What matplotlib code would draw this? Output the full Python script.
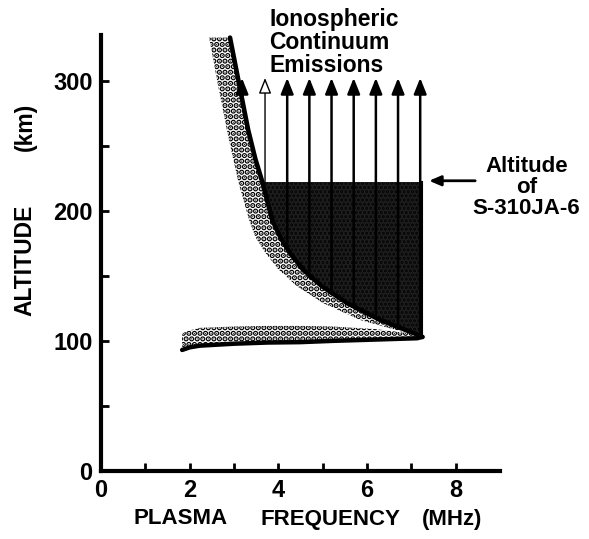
import numpy as np
import matplotlib
matplotlib.use("Agg")
import matplotlib.pyplot as plt

plt.rcParams['font.family'] = ['Liberation Sans', 'DejaVu Sans']
plt.rcParams['hatch.linewidth'] = 2.8

# electron density profile expressed as plasma frequency (MHz) vs altitude (km)
prof_alt = [333, 300, 262, 240, 222, 193, 180, 168, 155, 142, 129, 116, 106, 103]
prof_freq = [2.91, 3.10, 3.32, 3.48, 3.64, 3.86, 4.04, 4.25, 4.55, 4.98, 5.55, 6.30, 7.05, 7.25]
# outer edge of the stippled band along the topside
band_freq = [2.44, 2.62, 2.84, 2.98, 3.10, 3.34, 3.48, 3.70, 4.00, 4.42, 5.01, 5.85, 6.90, 7.10]

# bottomside of the E layer
low_freq = [1.83, 2.0, 2.23, 3.0, 3.75, 4.49, 5.24, 6.2, 7.13, 7.25]
low_alt = [93, 95, 96.3, 97.8, 98.7, 99, 100, 101, 102, 103]
low_band_top = [106, 108, 110, 111, 111.5, 111.5, 111, 109, 105, 103]

peak_freq = 7.25
rocket_alt = 222

# continuum emission arrows
arrow_freq = [3.18, 3.7, 4.2, 4.7, 5.2, 5.7, 6.2, 6.7, 7.2]
arrow_base = [280, 222, 172, 149, 136, 126, 120, 113, 104]
arrow_top = 302

fig = plt.figure(figsize=(5.89, 5.39), dpi=100)
ax = fig.add_axes([101 / 589, 68 / 539, 399 / 589, 436 / 539])

# stippled bands
ax.fill_betweenx(prof_alt, band_freq, prof_freq, facecolor='white',
                 edgecolor='black', hatch='...', linewidth=0, zorder=1)
ax.fill_between(low_freq, low_alt, low_band_top, facecolor='white',
                edgecolor='black', hatch='...', linewidth=0, zorder=1)

# dark region below the rocket altitude
alt = np.array(prof_alt)
freq = np.array(prof_freq)
sel = alt <= rocket_alt
ax.fill_betweenx(alt[sel], freq[sel], peak_freq, facecolor='#050505',
                 edgecolor='#1f1f1f', hatch='....', linewidth=0, zorder=2)

# profile lines
ax.plot(prof_freq, prof_alt, color='black', lw=3.3, solid_capstyle='round',
        solid_joinstyle='round', zorder=4)
ax.plot(low_freq, low_alt, color='black', lw=3.2, solid_capstyle='round',
        solid_joinstyle='round', zorder=4)
ax.plot([peak_freq, peak_freq], [low_alt[-1], rocket_alt], color='black', lw=1.5, zorder=4)

# arrows
for i, (f, b) in enumerate(zip(arrow_freq, arrow_base)):
    thin = (i == 1)
    ax.annotate('', xy=(f, arrow_top), xytext=(f, b),
                arrowprops=dict(arrowstyle='-|>,head_length=0.95,head_width=0.38',
                                lw=1.0 if thin else 1.8,
                                facecolor='white' if thin else 'black',
                                edgecolor='black', shrinkA=0, shrinkB=0),
                zorder=5)

ax.text(3.79, 356, 'Ionospheric\nContinuum\nEmissions', fontsize=16.5, fontweight='bold',
        ha='left', va='top', linespacing=1.0, clip_on=False)

# rocket altitude marker
ax.annotate('', xy=(7.4, 223), xytext=(8.44, 223),
            arrowprops=dict(arrowstyle='-|>,head_length=0.7,head_width=0.3',
                            lw=2, color='black', shrinkA=0, shrinkB=0),
            annotation_clip=False)
ax.text(9.6, 218, 'Altitude\nof\nS-310JA-6', fontsize=16, fontweight='bold',
        ha='center', va='center', linespacing=1.0, clip_on=False)

ax.set_xlim(0, 9)
ax.set_ylim(0, 335)
ax.set_xticks([0, 2, 4, 6, 8])
ax.set_xticks([1, 3, 5, 7], minor=True)
ax.set_yticks([0, 100, 200, 300])
ax.set_yticks([50, 150, 250], minor=True)

for s in ['top', 'right']:
    ax.spines[s].set_visible(False)
for s in ['left', 'bottom']:
    ax.spines[s].set_linewidth(3)
ax.tick_params(which='both', direction='in', length=6, width=2, labelsize=17)
ax.tick_params(axis='x', pad=6)
ax.tick_params(axis='y', pad=6)
for lab in ax.get_xticklabels() + ax.get_yticklabels():
    lab.set_fontweight('bold')

# axis titles
fig.text(25 / 589, 1 - 260 / 539, 'ALTITUDE', rotation=90, fontsize=16.5,
         fontweight='bold', ha='center', va='center')
fig.text(25 / 589, 1 - 127 / 539, '(km)', rotation=90, fontsize=16.5,
         fontweight='bold', ha='center', va='center')
fig.text(181 / 589, 1 - 519 / 539, 'PLASMA', fontsize=16,
         fontweight='bold', ha='center', va='center')
fig.text(330 / 589, 1 - 519 / 539, 'FREQUENCY', fontsize=16,
         fontweight='bold', ha='center', va='center')
fig.text(452 / 589, 1 - 519 / 539, '(MHz)', fontsize=16,
         fontweight='bold', ha='center', va='center')

fig.savefig('out.png', dpi=100)
